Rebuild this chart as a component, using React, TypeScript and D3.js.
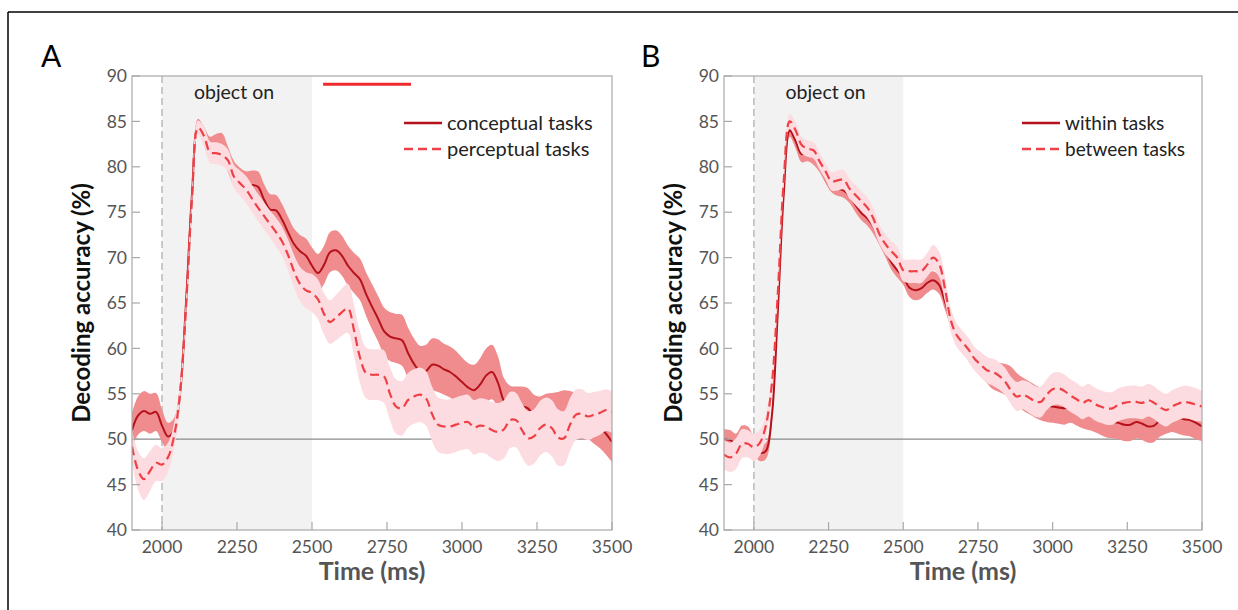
import React from "react";
import * as d3 from "d3";

// sampling grid (ms)
const time = d3.range(1900, 3501, 20);

// panel A
const conceptual = [
  51.0, 52.6, 53.1, 52.8, 53.0,
  51.5, 50.3, 51.0, 55.0, 65.0,
  77.0, 84.5, 83.4, 82.0, 82.2,
  82.3, 80.8, 79.2, 78.4, 77.9,
  78.0, 77.8, 76.4, 75.3, 75.2,
  74.2, 72.8, 71.5, 70.7, 70.2,
  69.1, 68.3, 69.2, 70.6, 70.8,
  70.2, 69.1, 68.3, 67.6, 66.0,
  64.6, 63.3, 61.9, 61.3, 61.1,
  60.9, 59.5, 58.3, 57.5, 57.5,
  58.2, 58.1, 57.7, 57.4, 56.9,
  56.3, 55.7, 55.4, 56.0, 57.0,
  57.4, 56.2, 54.2, 53.6, 53.6,
  53.6, 53.4, 52.6, 52.3, 52.6,
  52.6, 52.7, 52.9, 52.8, 52.6,
  52.5, 52.4, 51.9, 51.3, 50.6,
  49.7,
];
const conceptualErr = [
  1.9, 2.1, 2.2, 2.2, 2.1,
  1.8, 1.5, 1.3, 1.0, 1.0,
  1.0, 0.8, 1.0, 1.3, 1.4,
  1.4, 1.4, 1.4, 1.5, 1.6,
  1.6, 1.7, 1.7, 1.7, 1.7,
  1.7, 1.7, 1.7, 1.8, 1.9,
  2.0, 2.1, 2.1, 2.2, 2.2,
  2.2, 2.2, 2.2, 2.3, 2.4,
  2.5, 2.5, 2.6, 2.7, 2.7,
  2.8, 2.8, 2.8, 2.8, 2.9,
  2.9, 2.9, 2.8, 2.8, 2.8,
  2.7, 2.7, 2.8, 2.9, 3.0,
  3.0, 2.9, 2.5, 2.3, 2.2,
  2.2, 2.2, 2.3, 2.4, 2.4,
  2.5, 2.5, 2.5, 2.5, 2.5,
  2.5, 2.4, 2.4, 2.3, 2.3,
  2.2,
];
const perceptual = [
  49.2, 46.6, 45.6, 46.5, 47.4,
  47.2, 48.0, 50.3, 55.0, 64.5,
  76.5, 84.3, 83.4, 81.6, 81.5,
  81.3, 80.7, 78.9, 78.2, 77.5,
  76.5, 75.5, 74.6, 73.7, 72.8,
  71.8, 70.3, 68.5, 67.1, 66.4,
  66.1, 65.4, 63.8, 62.9, 63.4,
  64.0, 64.4, 62.0, 59.0, 57.3,
  57.1, 57.1, 56.9, 55.0, 53.6,
  53.4, 54.3, 54.7, 54.9, 54.5,
  52.8, 51.6, 51.4, 51.4, 51.6,
  51.8, 51.9, 51.3, 51.5, 51.4,
  51.0, 50.8, 51.1, 52.1, 52.1,
  51.0, 50.1, 50.3, 51.2, 51.6,
  51.2, 50.2, 50.1, 51.6, 52.7,
  52.8, 52.5, 52.7, 52.9, 53.2,
  53.0,
];
const perceptualErr = [
  1.8, 2.1, 2.3, 2.2, 2.0,
  1.8, 1.6, 1.4, 1.1, 1.0,
  1.0, 0.8, 1.0, 1.2, 1.2,
  1.2, 1.2, 1.3, 1.4, 1.5,
  1.5, 1.5, 1.5, 1.5, 1.6,
  1.6, 1.7, 1.8, 1.9, 2.0,
  2.1, 2.2, 2.3, 2.4, 2.5,
  2.6, 2.7, 2.8, 2.8, 2.8,
  2.8, 2.8, 2.9, 2.9, 3.0,
  3.0, 3.0, 3.0, 3.0, 3.0,
  3.0, 3.0, 3.0, 3.0, 3.0,
  3.0, 3.0, 3.0, 3.0, 3.0,
  3.1, 3.2, 3.2, 3.1, 3.0,
  3.0, 3.0, 3.0, 3.0, 3.0,
  3.1, 3.1, 3.0, 2.9, 2.8,
  2.7, 2.6, 2.5, 2.4, 2.3,
  2.3,
];

// panel B
const within = [
  50.0, 49.9, 49.6, 50.3, 50.2,
  49.3, 48.5, 48.7, 52.5, 64.0,
  77.0, 84.0, 82.8, 81.4, 81.6,
  81.2, 80.4, 79.1, 78.0, 77.6,
  77.4, 76.8, 75.8, 74.9, 74.3,
  73.4, 72.1, 70.8, 69.5, 68.6,
  67.9, 66.7, 66.4, 66.6, 67.2,
  67.5, 67.0, 65.1, 63.1, 61.4,
  60.6, 59.6, 58.8, 58.2, 57.6,
  57.0, 56.8, 56.6, 56.3, 55.6,
  55.0, 54.6, 54.2, 53.9, 53.7,
  53.6, 53.5, 53.4, 53.6, 53.3,
  53.0, 52.8, 52.6, 52.3, 52.0,
  51.9, 51.8, 51.6, 51.6, 51.9,
  51.7, 51.4, 51.5, 52.1, 52.4,
  52.6, 52.4, 52.2, 52.1, 51.8,
  51.4,
];
const withinErr = [
  1.1, 1.1, 1.0, 1.2, 1.2,
  1.0, 0.9, 0.9, 0.8, 0.8,
  0.8, 0.7, 0.8, 0.9, 1.0,
  1.0, 1.0, 0.9, 0.8, 0.8,
  0.8, 0.8, 0.8, 0.8, 0.8,
  0.8, 0.7, 0.7, 0.8, 0.8,
  0.9, 1.0, 1.1, 1.1, 1.1,
  1.0, 1.0, 0.9, 0.9, 0.9,
  1.0, 1.1, 1.2, 1.3, 1.4,
  1.5, 1.6, 1.7, 1.7, 1.7,
  1.8, 1.8, 1.8, 1.8, 1.8,
  1.8, 1.8, 1.8, 1.8, 1.8,
  1.8, 1.8, 1.8, 1.8, 1.8,
  1.8, 1.8, 1.8, 1.8, 1.8,
  1.8, 1.8, 1.8, 1.8, 1.8,
  1.8, 1.8, 1.8, 1.8, 1.8,
  1.6,
];
const between = [
  48.3, 48.0, 48.4, 49.5, 49.5,
  49.1, 49.6, 51.5, 56.0, 66.0,
  78.5, 85.0, 84.0, 82.4, 82.0,
  81.8, 80.6, 79.5, 78.4, 78.5,
  78.6, 77.6, 76.9, 76.2, 75.5,
  74.3, 72.6, 71.5, 70.7, 70.0,
  68.6, 68.5, 68.5, 68.5, 69.2,
  70.0, 69.3, 66.5, 63.0, 61.4,
  60.6, 59.8, 58.8, 58.2, 57.6,
  57.4, 57.0, 56.4, 55.4, 54.7,
  54.9, 54.6, 54.2, 54.1, 54.9,
  55.5, 55.6, 55.3, 54.8, 54.4,
  54.0, 54.3, 53.9, 53.6, 53.4,
  53.4, 53.8, 54.0, 54.1, 54.1,
  54.0, 54.3, 54.0, 53.5, 53.2,
  53.6, 53.9, 54.1, 54.0, 53.8,
  53.6,
];
const betweenErr = [
  1.6, 1.6, 1.7, 1.6, 1.5,
  1.5, 1.4, 1.3, 1.0, 0.9,
  0.9, 0.8, 0.9, 0.9, 0.9,
  0.9, 0.9, 0.9, 1.0, 1.1,
  1.1, 1.1, 1.1, 1.1, 1.1,
  1.1, 1.1, 1.1, 1.1, 1.2,
  1.2, 1.3, 1.3, 1.3, 1.3,
  1.4, 1.4, 1.4, 1.3, 1.3,
  1.3, 1.3, 1.3, 1.4, 1.4,
  1.5, 1.5, 1.5, 1.5, 1.6,
  1.6, 1.7, 1.7, 1.7, 1.7,
  1.8, 1.8, 1.8, 1.8, 1.8,
  1.8, 1.8, 1.8, 1.8, 1.8,
  1.8, 1.8, 1.8, 1.8, 1.8,
  1.8, 1.8, 1.8, 1.8, 1.8,
  1.8, 1.8, 1.8, 1.8, 1.8,
  1.7,
];

const xTicks = [2000, 2250, 2500, 2750, 3000, 3250, 3500];
const yTicks = [40, 45, 50, 55, 60, 65, 70, 75, 80, 85, 90];
const objectOn = [2000, 2500];
const sigA = [2537, 2830]; // significant difference, panel A
const sigLevel = 89.1;

const FONT = "Lato, 'Open Sans', sans-serif";
const DARK = "#b5121b";
const DARK_BAND = "#f08c8e";
const LIGHT = "#ef4046";
const LIGHT_BAND = "#fcdce0";

function Panel({ id, letter, letterX, left, right, solid, solidErr, dashed, dashedErr, names, legendX, legendSize, sig }) {
  const top = 76;
  const bottom = 530;
  const x = d3.scaleLinear().domain([1900, 3500]).range([left, right]);
  const y = d3.scaleLinear().domain([40, 90]).range([bottom, top]);
  const curve = d3.curveCatmullRom.alpha(0.5);

  const line = d3
    .line<number>()
    .x((d, i) => x(time[i]))
    .y((d) => y(d))
    .curve(curve);

  const band = (m: number[], e: number[]) =>
    d3
      .area<number>()
      .x((d, i) => x(time[i]))
      .y0((d, i) => y(m[i] - e[i]))
      .y1((d, i) => y(m[i] + e[i]))
      .curve(curve)(m);

  return (
    <g fontFamily={FONT}>
      <defs>
        <clipPath id={`clip-${id}`}>
          <rect x={left} y={top} width={right - left} height={bottom - top} />
        </clipPath>
      </defs>
      <text x={letterX} y={67} fontSize={30} fill="#000">{letter}</text>

      {/* stimulus period */}
      <rect x={x(objectOn[0])} y={top} width={x(objectOn[1]) - x(objectOn[0])} height={bottom - top} fill="#f2f2f2" />
      <line x1={x(objectOn[0])} x2={x(objectOn[0])} y1={top} y2={bottom} stroke="#aaa" strokeWidth={1.2} strokeDasharray="7 4" />
      <line x1={left} x2={right} y1={y(50)} y2={y(50)} stroke="#8a8a8a" strokeWidth={1.2} />
      <text x={(x(objectOn[0]) + x(objectOn[1])) / 2 - 3} y={99} fontSize={19.5} fill="#222" textAnchor="middle">object on</text>

      <g clipPath={`url(#clip-${id})`}>
        <path d={band(solid, solidErr)} fill={DARK_BAND} />
        <path d={line(solid)} fill="none" stroke={DARK} strokeWidth={2} />
        <path d={band(dashed, dashedErr)} fill={LIGHT_BAND} />
        <path d={line(dashed)} fill="none" stroke={LIGHT} strokeWidth={2.2} strokeDasharray="9 5" />
      </g>

      {sig && (
        <line x1={x(sig[0])} x2={x(sig[1])} y1={y(sigLevel)} y2={y(sigLevel)} stroke="#ee2a2e" strokeWidth={3} />
      )}

      {/* axes box */}
      <rect x={left} y={top} width={right - left} height={bottom - top} fill="none" stroke="#a8a8a8" strokeWidth={1.2} />
      {yTicks.map((t) => (
        <g key={t}>
          <line x1={left} x2={left + 8} y1={y(t)} y2={y(t)} stroke="#a8a8a8" strokeWidth={1.2} />
          <text x={left - 5} y={y(t)} dy="0.35em" fontSize={17.5} fill="#555" textAnchor="end">{t}</text>
        </g>
      ))}
      {xTicks.map((t) => (
        <g key={t}>
          <line x1={x(t)} x2={x(t)} y1={bottom} y2={bottom - 8} stroke="#a8a8a8" strokeWidth={1.2} />
          <text x={x(t)} y={553} fontSize={17.5} fill="#555" textAnchor="middle">{t}</text>
        </g>
      ))}
      <text x={(left + right) / 2} y={580} fontSize={25} fontWeight="bold" fill="#555" textAnchor="middle">Time (ms)</text>
      <text
        transform={`translate(${left - 42},${(top + bottom) / 2}) rotate(-90)`}
        fontSize={24}
        fontWeight="bold"
        fill="#111"
        textAnchor="middle"
      >
        Decoding accuracy (%)
      </text>

      {/* legend */}
      <line x1={legendX} x2={legendX + 38} y1={123} y2={123} stroke={DARK} strokeWidth={2.5} />
      <text x={legendX + 43} y={130} fontSize={legendSize} fill="#222">{names[0]}</text>
      <line x1={legendX} x2={legendX + 38} y1={149} y2={149} stroke={LIGHT} strokeWidth={2.5} strokeDasharray="9 5" />
      <text x={legendX + 43} y={156} fontSize={legendSize} fill="#222">{names[1]}</text>
    </g>
  );
}

export default function App() {
  return (
    <svg width={1238} height={610} style={{ position: "absolute", left: 0, top: 0, background: "#fff" }}>
      <rect width={1238} height={610} fill="#fff" />
      <line x1={8} x2={1238} y1={12} y2={12} stroke="#000" strokeWidth={1.5} />
      <line x1={8} x2={8} y1={12} y2={610} stroke="#000" strokeWidth={1.5} />
      <Panel
        id="a"
        letter="A"
        letterX={41}
        left={132}
        right={612}
        solid={conceptual}
        solidErr={conceptualErr}
        dashed={perceptual}
        dashedErr={perceptualErr}
        names={["conceptual tasks", "perceptual tasks"]}
        legendX={404}
        legendSize={20}
        sig={sigA}
      />
      <Panel
        id="b"
        letter="B"
        letterX={641}
        left={724}
        right={1202}
        solid={within}
        solidErr={withinErr}
        dashed={between}
        dashedErr={betweenErr}
        names={["within tasks", "between tasks"]}
        legendX={1022}
        legendSize={19}
        sig={null}
      />
    </svg>
  );
}
